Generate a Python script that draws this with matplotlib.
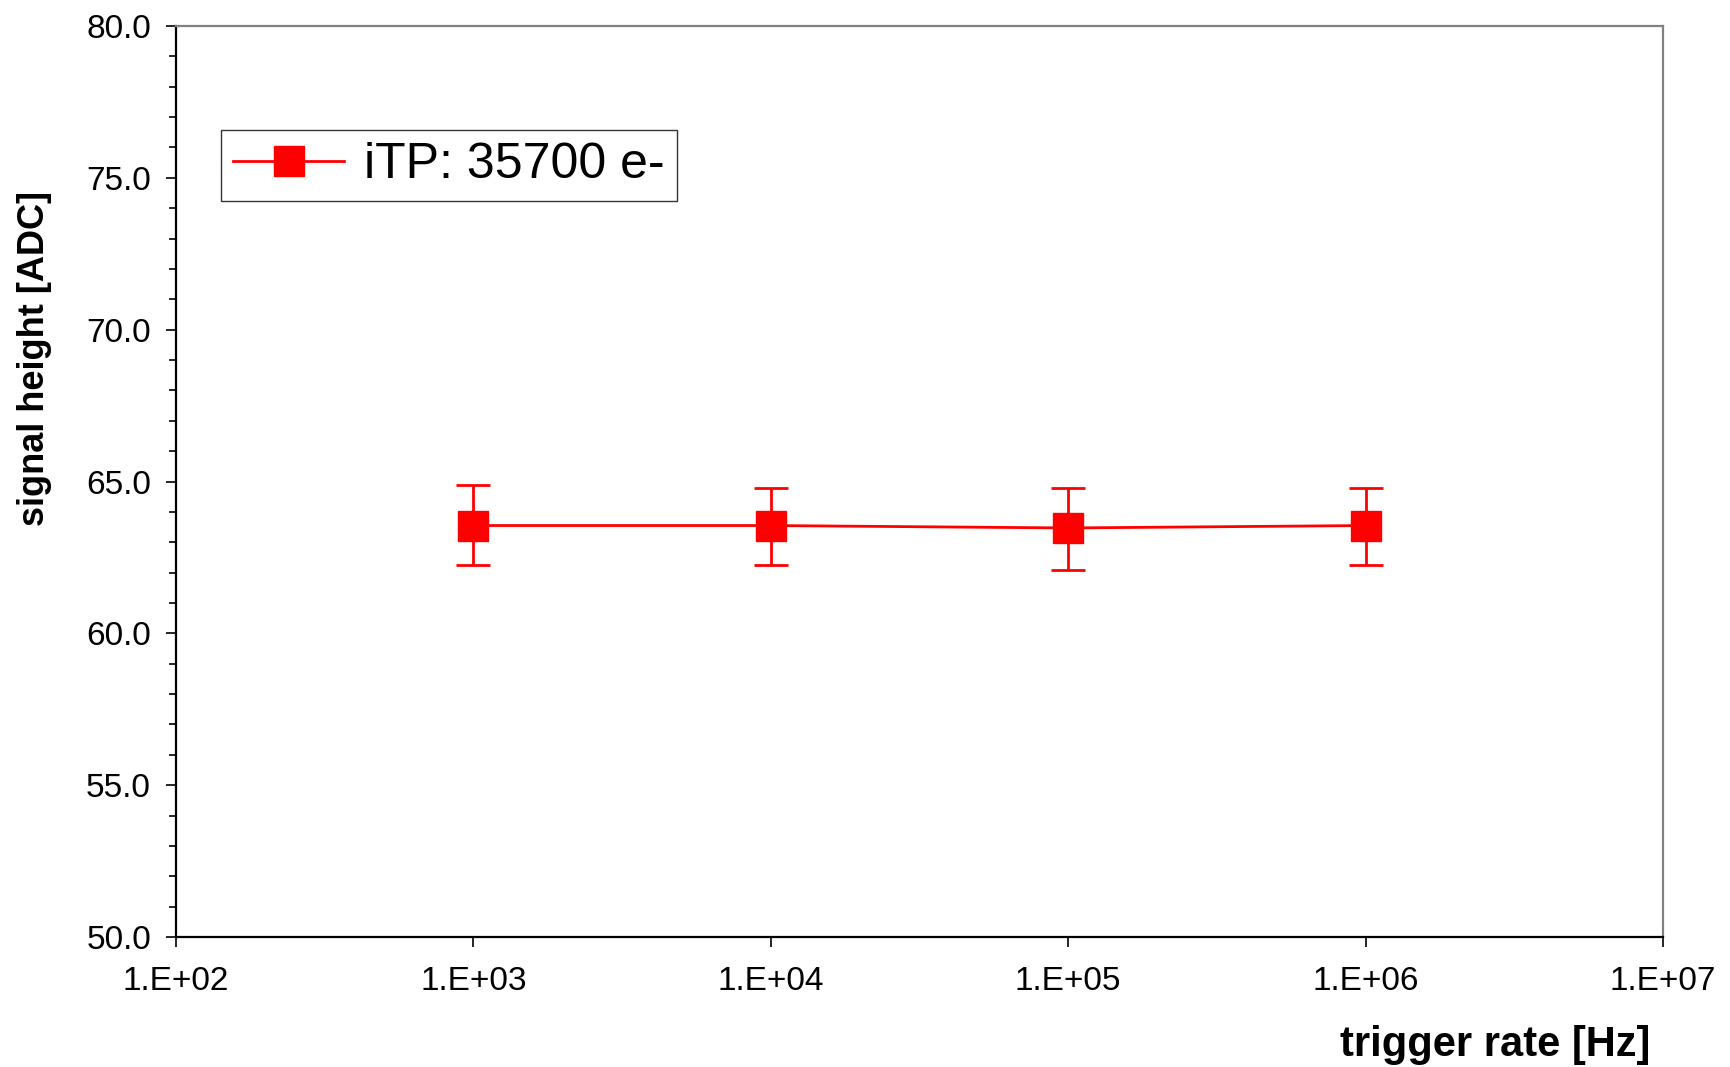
import numpy as np
import matplotlib
matplotlib.use('Agg')
import matplotlib.pyplot as plt
from matplotlib.lines import Line2D
from matplotlib.ticker import FixedLocator, MultipleLocator

plt.rcParams['font.family'] = ['Liberation Sans', 'DejaVu Sans']

# trigger rate [Hz] and signal height [ADC]
rate = [1e3, 1e4, 1e5, 1e6]
height = [63.55, 63.55, 63.47, 63.55]
err_lo = [1.31, 1.31, 1.39, 1.31]
err_hi = [1.33, 1.22, 1.30, 1.22]
series_label = 'iTP: 35700 e-'
xticks = [1e2, 1e3, 1e4, 1e5, 1e6, 1e7]
xtick_labels = ['1.E+02', '1.E+03', '1.E+04', '1.E+05', '1.E+06', '1.E+07']
yticks = [50, 55, 60, 65, 70, 75, 80]

red = '#ff0000'

fig = plt.figure(figsize=(17.3, 10.67), dpi=100)
ax = fig.add_axes([176/1730, 1 - 937/1067, (1663 - 176)/1730, (937 - 26)/1067])

ax.errorbar(rate, height, yerr=[err_lo, err_hi], color=red, lw=2,
            elinewidth=2, capsize=12, capthick=2, marker='s', ms=22,
            mfc=red, mec=red)

ax.set_xscale('log')
ax.set_xlim(1e2, 1e7)
ax.set_ylim(50, 80)
ax.xaxis.set_major_locator(FixedLocator(xticks))
ax.xaxis.set_minor_locator(FixedLocator([]))
ax.set_xticklabels(xtick_labels)
ax.yaxis.set_major_locator(FixedLocator(yticks))
ax.yaxis.set_minor_locator(MultipleLocator(1))
ax.yaxis.set_major_formatter(plt.FuncFormatter(lambda v, p: '%.1f' % v))

ax.tick_params(axis='both', which='major', direction='out', length=7,
               width=1.2, labelsize=24, color='black')
ax.tick_params(axis='y', which='minor', direction='out', length=5, width=1.2)
ax.tick_params(axis='x', pad=14)
ax.tick_params(axis='y', pad=11)

for side in ['left', 'bottom']:
    ax.spines[side].set_color('black')
    ax.spines[side].set_linewidth(1.6)
for side in ['top', 'right']:
    ax.spines[side].set_color('#808080')
    ax.spines[side].set_linewidth(1.6)

fig.text(1650/1730, 1 - 1045/1067, 'trigger rate [Hz]', ha='right', va='center',
         fontsize=30, fontweight='bold')
fig.text(35/1730, 1 - 358/1067, 'signal height [ADC]', ha='center', va='center',
         rotation=90, fontsize=26, fontweight='bold')

handle = Line2D([], [], color=red, lw=2, marker='s', ms=22, mfc=red, mec=red)
leg = ax.legend([handle], [series_label], loc='upper left',
                bbox_to_anchor=(221/1730, 1 - 130/1067),
                bbox_transform=fig.transFigure, borderaxespad=0, fontsize=36,
                fancybox=False, frameon=True, handlelength=2.2,
                handletextpad=0.4, borderpad=0.25)
leg.get_frame().set_edgecolor('black')
leg.get_frame().set_linewidth(1.0)

fig.savefig('out.png', dpi=100)
